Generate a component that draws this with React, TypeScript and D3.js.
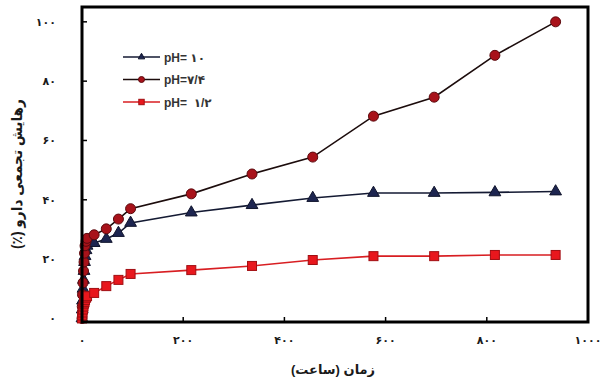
import React from "react";
import * as d3 from "d3";

const times = [0, 0.5, 1, 2, 3, 4, 5, 6, 8, 10, 24, 48, 72, 96, 216, 336, 456, 576, 696, 816, 936];
const ph10 = [0, 3, 6, 10, 13, 16, 19, 21, 23, 24.5, 25.4, 26.8, 28.8, 32.2, 35.7, 38.2, 40.6, 42.3, 42.3, 42.5, 42.8];
const ph74 = [0, 4, 8, 12, 16, 19, 22, 24.5, 26, 27, 28.2, 30.2, 33.5, 37, 42, 48.7, 54.4, 68.2, 74.6, 88.7, 100];
const ph12 = [0, 1, 2, 3, 4, 5, 5.5, 6.2, 7, 7.5, 8.6, 10.9, 13, 15, 16.3, 17.7, 19.7, 21, 21, 21.4, 21.4];

const xTicks = [0, 200, 400, 600, 800, 1000];
const xTickLabels = ["۰", "۲۰۰", "۴۰۰", "۶۰۰", "۸۰۰", "۱۰۰۰"];
const yTicks = [0, 20, 40, 60, 80, 100];
const yTickLabels = ["۰", "۲۰", "۴۰", "۶۰", "۸۰", "۱۰۰"];
const legendLabels = ["pH= ۱۰", "pH=۷/۴", "pH=  ۱/۲"];
const xTitle = "زمان (ساعت)";
const yTitle = "رهایش تجمعی دارو (٪)";

const W = 601, H = 383;
const L = 82, R = 588, T = 7, B = 322;

export default function App() {
  const x = d3.scaleLinear().domain([0, 1000]).range([L, R]);
  const y = d3.scaleLinear().domain([-1.2, 105]).range([B, T]);
  const line = d3.line<[number, number]>().x(d => x(d[0])).y(d => y(d[1]));
  const mk = (vals: number[]) => times.map((t, i) => [t, vals[i]] as [number, number]);
  const triBig = d3.symbol().type(d3.symbolTriangle).size(60)()!;
  const triSmall = d3.symbol().type(d3.symbolTriangle).size(18)()!;
  const font = "'Liberation Sans', 'DejaVu Sans', Arial, sans-serif";

  const series = [
    { vals: ph10, line: "#141a33", kind: "tri", fill: "#1d2550", stroke: "#10142c" },
    { vals: ph74, line: "#1c0c0c", kind: "circle", fill: "#a8121a", stroke: "#5c0a0e" },
    { vals: ph12, line: "#d81e22", kind: "square", fill: "#e8171d", stroke: "#a10e12" },
  ];

  const marker = (s: any, cx: number, cy: number, key: any, k = 1) => {
    if (s.kind === "circle") return <circle key={key} cx={cx} cy={cy} r={5 * k} fill={s.fill} stroke={s.stroke} strokeWidth={1} />;
    if (s.kind === "square") return <rect key={key} x={cx - 4.5 * k} y={cy - 4.5 * k} width={9 * k} height={9 * k} fill={s.fill} stroke={s.stroke} strokeWidth={1} />;
    return <path key={key} d={k < 1 ? triSmall : triBig} transform={`translate(${cx},${cy})`} fill={s.fill} stroke={s.stroke} strokeWidth={1} />;
  };

  return (
    <svg width={W} height={H} style={{ position: "absolute", left: 0, top: 0, background: "#fff" }}>
      <rect x={0} y={0} width={W} height={H} fill="#fff" />
      {xTicks.slice(1, -1).map((t, i) => (
        <line key={"xt" + i} x1={x(t)} x2={x(t)} y1={B} y2={B - 5} stroke="#000" strokeWidth={1.5} />
      ))}
      {yTicks.slice(1).map((t, i) => (
        <line key={"yt" + i} x1={L} x2={L + 5} y1={y(t)} y2={y(t)} stroke="#000" strokeWidth={1.5} />
      ))}
      {series.map((s, si) => (
        <g key={"s" + si}>
          <path d={line(mk(s.vals))!} fill="none" stroke={s.line} strokeWidth={1.6} />
          {mk(s.vals).map((d, i) => marker(s, x(d[0]), y(d[1]), i))}
        </g>
      ))}
      <rect x={L} y={T} width={R - L} height={B - T} fill="none" stroke="#000" strokeWidth={3} />
      {xTicks.map((t, i) => (
        <text key={"xl" + i} x={x(t)} y={344} textAnchor="middle" fontSize={11} fontWeight="bold" fontFamily={font} fill="#1a1a1a">{xTickLabels[i]}</text>
      ))}
      {yTicks.map((t, i) => (
        <text key={"yl" + i} x={56} y={y(t) + 4} textAnchor="end" fontSize={11} fontWeight="bold" fontFamily={font} fill="#1a1a1a">{yTickLabels[i]}</text>
      ))}
      <text x={333} y={374} textAnchor="middle" fontSize={13} fontWeight="bold" fontFamily={font} fill="#1a1a1a" direction="rtl">{xTitle}</text>
      <text transform={`translate(22,174) rotate(-90)`} textAnchor="middle" fontSize={15} fontWeight="bold" fontFamily={font} fill="#1a1a1a" direction="rtl" textLength={150} lengthAdjust="spacingAndGlyphs">{yTitle}</text>
      {series.map((s, i) => {
        const ly = 57 + i * 22.5;
        return (
          <g key={"lg" + i}>
            <line x1={123} x2={160} y1={ly} y2={ly} stroke={s.line} strokeWidth={1.6} />
            {marker(s, 141.5, ly, "m", 0.6)}
            <text x={164} y={ly + 4.5} fontSize={12} fontWeight="bold" fontFamily={font} fill="#333" direction="ltr" style={{ whiteSpace: "pre" }}>{legendLabels[i]}</text>
          </g>
        );
      })}
    </svg>
  );
}
